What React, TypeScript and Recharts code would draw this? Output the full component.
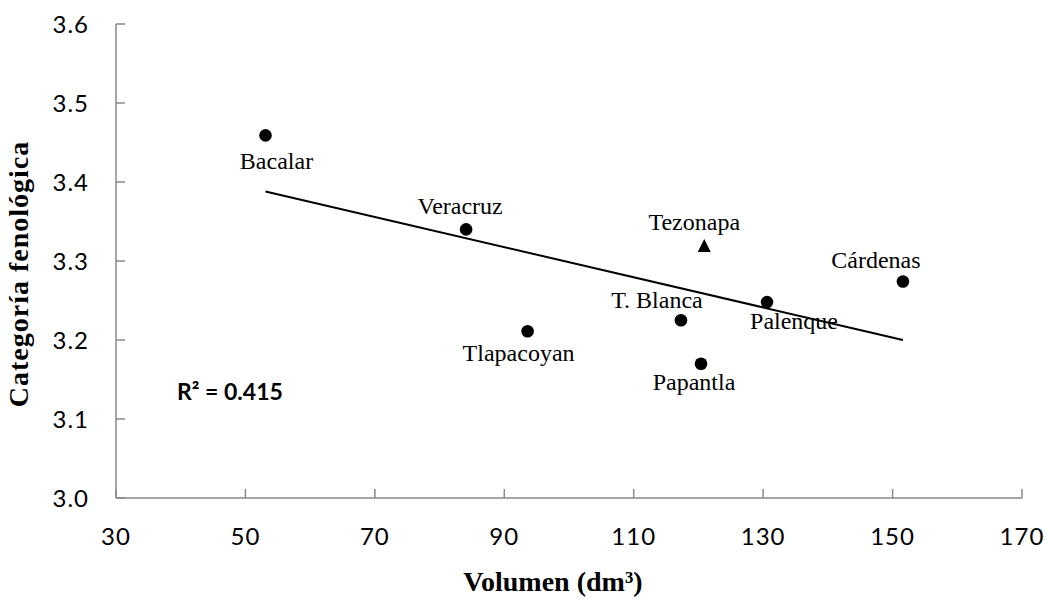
import React from 'react';
import { ScatterChart, Scatter, XAxis, YAxis } from 'recharts';

// valores
const sitios = ['Bacalar', 'Veracruz', 'Tlapacoyan', 'T. Blanca', 'Papantla', 'Palenque', 'Cárdenas'];
const volumen = [53.1, 84.1, 93.6, 117.3, 120.4, 130.6, 151.6];
const categoria = [3.459, 3.34, 3.211, 3.225, 3.17, 3.248, 3.274];

const tezonapaVolumen = [120.9];
const tezonapaCategoria = [3.319];

const tendenciaX = [53.1, 151.6];
const tendenciaY = [3.388, 3.2];

const xTicks = [30, 50, 70, 90, 110, 130, 150, 170];
const yTicks = [3.0, 3.1, 3.2, 3.3, 3.4, 3.5, 3.6];

// desplazamiento de cada etiqueta respecto a su punto
const labelOffset: Record<string, [number, number]> = {
  Bacalar: [11, 26],
  Veracruz: [-6, -23],
  Tezonapa: [-10, -24],
  'T. Blanca': [-24, -20],
  Tlapacoyan: [-9, 22],
  Papantla: [-7, 18],
  Palenque: [27, 19],
  'Cárdenas': [-27, -21],
};

const puntos = sitios.map((name, i) => ({ name, x: volumen[i], y: categoria[i] }));
const tezonapa = tezonapaVolumen.map((x, i) => ({ name: 'Tezonapa', x, y: tezonapaCategoria[i] }));
const tendencia = tendenciaX.map((x, i) => ({ x, y: tendenciaY[i] }));

const serif = '"Liberation Serif", "Times New Roman", serif';
const sans = 'Lato, "Open Sans", sans-serif';
const axisGray = '#898989';

const PointLabel = ({ cx, cy, name }: { cx: number; cy: number; name: string }) => {
  const [dx, dy] = labelOffset[name] || [0, 0];
  return (
    <text x={cx + dx} y={cy + dy} dy="0.33em" textAnchor="middle" fontFamily={serif} fontSize={24} fill="#000">
      {name}
    </text>
  );
};

const Dot = (props: any) => {
  const name = props.payload?.name ?? props.name;
  return (
    <g>
      <circle cx={props.cx} cy={props.cy} r={6.3} fill="#000" />
      <PointLabel cx={props.cx} cy={props.cy} name={name} />
    </g>
  );
};

const Triangle = (props: any) => {
  const { cx, cy } = props;
  const name = props.payload?.name ?? props.name;
  return (
    <g>
      <polygon points={`${cx},${cy - 7} ${cx + 6.5},${cy + 6} ${cx - 6.5},${cy + 6}`} fill="#000" />
      <PointLabel cx={cx} cy={cy} name={name} />
    </g>
  );
};

const XTitle = (props: any) => {
  const { viewBox } = props;
  return (
    <text
      x={viewBox.x + viewBox.width / 2 - 16}
      y={viewBox.y + viewBox.height - 8}
      textAnchor="middle"
      fontFamily={serif}
      fontWeight="bold"
      fontSize={28}
      fill="#000"
    >
      Volumen (dm³)
    </text>
  );
};

const YTitle = (props: any) => {
  const { viewBox } = props;
  const cy = viewBox.y + viewBox.height / 2 + 13;
  return (
    <text
      x={28}
      y={cy}
      transform={`rotate(-90, 28, ${cy})`}
      textAnchor="middle"
      fontFamily={serif}
      fontWeight="bold"
      fontSize={28}
      letterSpacing={1}
      fill="#000"
    >
      Categoría fenológica
    </text>
  );
};

const tickStyle = { fontFamily: sans, fontSize: 24, fill: '#000', letterSpacing: 1 };

export default function App() {
  return (
    <div style={{ position: 'absolute', left: 0, top: 0, width: 1047, height: 599, background: '#fff' }}>
      <ScatterChart width={1047} height={599} margin={{ top: 24, right: 25, bottom: 0, left: 0 }}>
        <XAxis
          type="number"
          dataKey="x"
          domain={[30, 170]}
          ticks={xTicks}
          height={101}
          tickSize={-9}
          tickMargin={39}
          axisLine={{ stroke: axisGray, strokeWidth: 1.5 }}
          tickLine={{ stroke: axisGray, strokeWidth: 1.5 }}
          tick={tickStyle}
          label={{ content: XTitle }}
        />
        <YAxis
          type="number"
          dataKey="y"
          domain={[3.0, 3.6]}
          ticks={yTicks}
          tickFormatter={(v: number) => v.toFixed(1)}
          width={116}
          tickSize={-9}
          tickMargin={36}
          axisLine={{ stroke: axisGray, strokeWidth: 1.5 }}
          tickLine={{ stroke: axisGray, strokeWidth: 1.5 }}
          tick={tickStyle}
          label={{ content: YTitle }}
        />
        <Scatter
          data={tendencia}
          line={{ stroke: '#000', strokeWidth: 2 }}
          shape={() => <g />}
          isAnimationActive={false}
        />
        <Scatter data={puntos} shape={Dot} isAnimationActive={false} />
        <Scatter data={tezonapa} shape={Triangle} isAnimationActive={false} />
      </ScatterChart>
      <div
        style={{
          position: 'absolute',
          left: 177,
          top: 379,
          fontFamily: sans,
          fontWeight: 'bold',
          fontSize: 23,
          lineHeight: '24px',
          color: '#000',
        }}
      >
        R² = 0.415
      </div>
    </div>
  );
}
